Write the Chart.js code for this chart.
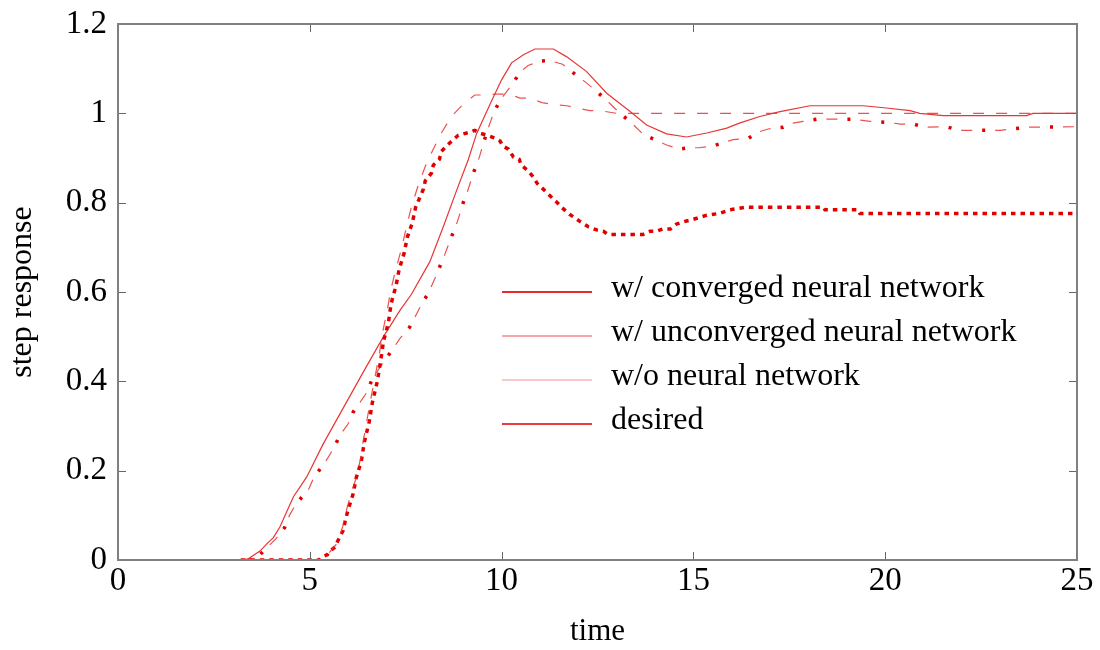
<!DOCTYPE html>
<html>
<head>
<meta charset="utf-8">
<script src="https://cdn.jsdelivr.net/npm/chart.js@4.4.1/dist/chart.umd.min.js"></script>
<style>
  body { margin: 0; background: #fff; }
  #wrap { width: 1100px; height: 650px; }
</style>
</head>
<body>
<div id="wrap"><canvas id="step-chart" width="1100" height="650"></canvas></div>
<script>
const ctx_step = document.getElementById('step-chart');

// tick values
const xTicks = [0, 5, 10, 15, 20, 25];
const yTicks = [0, 0.2, 0.4, 0.6, 0.8, 1, 1.2];

// w/ converged neural network (solid)
const convT = [3.2, 3.35, 3.7, 3.88, 4.05, 4.22, 4.57, 4.92, 5.35, 5.87, 6.39, 6.92, 7.35, 7.65, 8.13, 8.48, 8.83, 9.13, 9.35, 9.75, 10.0, 10.26, 10.57, 10.87, 11.35, 11.69, 12.21, 12.74, 13.35, 13.78, 14.3, 14.82, 15.35, 15.87, 16.2, 16.73, 17.26, 18.04, 19.43, 20.03, 20.65, 20.9, 21.51, 23.69, 23.85, 25];
const convY = [0, 0, 0.02, 0.036, 0.05, 0.074, 0.141, 0.186, 0.26, 0.34, 0.42, 0.5, 0.559, 0.595, 0.668, 0.746, 0.828, 0.896, 0.955, 1.03, 1.075, 1.113, 1.131, 1.144, 1.144, 1.127, 1.094, 1.045, 1.004, 0.974, 0.954, 0.947, 0.956, 0.967, 0.978, 0.993, 1.004, 1.017, 1.017, 1.012, 1.006, 1.0, 0.995, 0.995, 1.0, 1.0];

// w/ unconverged neural network (dash-dot)
const unconvT = [3.2, 3.5, 3.7, 4.12, 4.34, 4.47, 4.64, 4.96, 5.09, 5.27, 5.46, 5.64, 5.77, 6.0, 6.13, 6.3, 6.5, 6.61, 6.78, 6.97, 7.18, 7.35, 7.6, 7.79, 7.92, 8.09, 8.26, 8.39, 8.51, 8.7, 8.85, 9.0, 9.13, 9.27, 9.42, 9.55, 9.68, 9.81, 10.0, 10.25, 10.5, 10.69, 11.0, 11.26, 11.59, 11.91, 12.17, 12.48, 12.81, 13.09, 13.39, 13.72, 14.0, 14.3, 14.63, 14.9, 15.15, 15.52, 15.78, 16.04, 16.43, 16.69, 16.95, 17.34, 17.6, 17.86, 18.23, 19.14, 19.6, 20.03, 20.4, 20.74, 21.02, 21.6, 21.92, 23.0, 23.73, 25];
const unconvY = [0, 0.004, 0.012, 0.048, 0.072, 0.1, 0.126, 0.156, 0.182, 0.204, 0.227, 0.253, 0.277, 0.305, 0.331, 0.352, 0.377, 0.402, 0.425, 0.449, 0.474, 0.496, 0.521, 0.552, 0.574, 0.597, 0.63, 0.657, 0.682, 0.725, 0.758, 0.8, 0.83, 0.868, 0.902, 0.94, 0.974, 1.005, 1.034, 1.062, 1.094, 1.107, 1.117, 1.118, 1.11, 1.088, 1.071, 1.049, 1.023, 1.0, 0.978, 0.951, 0.941, 0.929, 0.92, 0.923, 0.923, 0.927, 0.935, 0.941, 0.944, 0.958, 0.965, 0.969, 0.978, 0.982, 0.987, 0.987, 0.982, 0.98, 0.976, 0.976, 0.969, 0.97, 0.962, 0.962, 0.969, 0.97];

// w/o neural network (dotted)
const woT = [3.2, 5.25, 5.3, 5.46, 5.51, 5.67, 5.72, 5.87, 5.93, 6.0, 6.13, 6.21, 6.34, 6.42, 6.55, 6.63, 6.76, 6.84, 6.92, 7.05, 7.12, 7.25, 7.33, 7.46, 7.54, 7.67, 7.76, 7.96, 8.01, 8.17, 8.22, 8.38, 8.43, 8.64, 8.87, 9.09, 9.3, 9.42, 9.62, 9.84, 9.96, 10.04, 10.18, 10.31, 10.46, 10.51, 10.67, 10.8, 10.93, 11.14, 11.22, 11.35, 11.44, 11.56, 11.77, 11.93, 12.04, 12.26, 12.48, 12.65, 12.78, 13.69, 13.87, 14.04, 14.2, 14.4, 14.56, 14.82, 15.09, 15.35, 15.69, 15.95, 16.39, 18.39, 18.43, 19.3, 19.34, 25];
const woY = [0, 0, 0.006, 0.012, 0.019, 0.03, 0.041, 0.066, 0.09, 0.113, 0.148, 0.184, 0.22, 0.263, 0.31, 0.352, 0.4, 0.442, 0.489, 0.532, 0.574, 0.615, 0.651, 0.687, 0.722, 0.754, 0.79, 0.83, 0.849, 0.866, 0.884, 0.897, 0.915, 0.933, 0.951, 0.956, 0.962, 0.956, 0.951, 0.944, 0.938, 0.926, 0.92, 0.902, 0.897, 0.884, 0.873, 0.86, 0.843, 0.826, 0.819, 0.808, 0.801, 0.79, 0.774, 0.765, 0.758, 0.746, 0.739, 0.736, 0.729, 0.729, 0.736, 0.736, 0.741, 0.741, 0.752, 0.759, 0.765, 0.772, 0.776, 0.784, 0.79, 0.79, 0.784, 0.784, 0.776, 0.776];

// desired (dashed)
const desT = [3.2, 5.35, 5.48, 5.7, 5.86, 5.98, 6.13, 6.22, 6.33, 6.4, 6.5, 6.6, 6.7, 6.81, 6.9, 7.02, 7.12, 7.25, 7.4, 7.53, 7.67, 7.85, 8.05, 8.18, 8.4, 8.7, 8.96, 9.3, 9.57, 9.87, 10.2, 10.48, 10.74, 11.05, 11.4, 11.7, 11.96, 12.3, 12.56, 13.0, 25];
const desY = [0, 0, 0.014, 0.036, 0.075, 0.12, 0.163, 0.186, 0.23, 0.27, 0.318, 0.365, 0.41, 0.46, 0.51, 0.56, 0.608, 0.653, 0.7, 0.75, 0.797, 0.845, 0.89, 0.913, 0.952, 0.994, 1.017, 1.041, 1.041, 1.043, 1.043, 1.034, 1.034, 1.024, 1.019, 1.017, 1.012, 1.006, 1.006, 1.0, 1.0];

const legendLabels = ['w/ converged neural network', 'w/ unconverged neural network', 'w/o neural network', 'desired'];
const legendColors = ['#e8282c', '#f4a8ab', '#f9c8ca', '#e83c3c'];

const serif = 'Liberation Serif, Times New Roman, serif';

function toPoints(ts, ys) {
  return ts.map((t, i) => ({ x: t, y: ys[i] }));
}

function lineSet(ts, ys, color, width, dash, dashOffset) {
  return {
    data: toPoints(ts, ys),
    borderColor: color,
    borderWidth: width,
    borderDash: dash,
    borderDashOffset: dashOffset || 0,
    pointRadius: 0,
    tension: 0,
    fill: false
  };
}

// frame with inward ticks on all four sides
const framePlugin = {
  id: 'frame',
  afterDatasetsDraw(chart) {
    const { ctx, chartArea: a, scales } = chart;
    ctx.save();
    ctx.strokeStyle = '#666';
    ctx.lineWidth = 1;
    ctx.beginPath();
    xTicks.forEach(v => {
      const px = Math.round(scales.x.getPixelForValue(v)) + 0.5;
      ctx.moveTo(px, a.bottom); ctx.lineTo(px, a.bottom - 8);
      ctx.moveTo(px, a.top); ctx.lineTo(px, a.top + 8);
    });
    yTicks.forEach(v => {
      const py = Math.round(scales.y.getPixelForValue(v)) + 0.5;
      ctx.moveTo(a.left, py); ctx.lineTo(a.left + 8, py);
      ctx.moveTo(a.right, py); ctx.lineTo(a.right - 8, py);
    });
    ctx.stroke();
    ctx.strokeStyle = '#808080';
    ctx.lineWidth = 2;
    ctx.strokeRect(a.left, a.top, a.right - a.left, a.bottom - a.top);
    ctx.restore();
  }
};

// legend inside the plot
const boxLegend = {
  id: 'boxLegend',
  afterDraw(chart) {
    const { ctx, chartArea: a } = chart;
    ctx.save();
    ctx.font = '32px ' + serif;
    ctx.textBaseline = 'middle';
    ctx.fillStyle = '#000';
    legendLabels.forEach((label, i) => {
      const y = a.top + 268 + i * 44;
      ctx.strokeStyle = legendColors[i];
      ctx.lineWidth = 2;
      ctx.beginPath();
      ctx.moveTo(a.left + 384, y);
      ctx.lineTo(a.left + 474, y);
      ctx.stroke();
      ctx.fillText(label, a.left + 493, y - 3);
    });
    ctx.restore();
  }
};

new Chart(ctx_step, {
  type: 'line',
  data: {
    datasets: [
      lineSet(desT, desY, 'rgba(232,50,50,0.85)', 1.2, [11, 12]),
      lineSet(woT, woY, '#e00000', 3.5, [4.5, 5]),
      lineSet(unconvT, unconvY, 'rgba(232,50,50,0.85)', 1.2, [11, 23]),
      lineSet(unconvT, unconvY, '#e00000', 3.5, [3, 31], 13),
      lineSet(convT, convY, 'rgba(228,30,30,0.9)', 1.2, [])
    ]
  },
  options: {
    responsive: false,
    animation: false,
    layout: { padding: { top: 24, right: 23, left: 0, bottom: 0 } },
    plugins: {
      legend: { display: false },
      tooltip: { enabled: false }
    },
    scales: {
      x: {
        type: 'linear',
        min: 0,
        max: 25,
        afterBuildTicks: s => { s.ticks = xTicks.map(v => ({ value: v })); },
        afterFit: s => { s.height = 90; s.paddingLeft = 0; s.paddingRight = 0; },
        grid: { display: false, drawTicks: false },
        border: { display: false },
        ticks: { color: '#000', font: { family: serif, size: 33 }, padding: 2, maxRotation: 0 },
        title: { display: true, text: 'time', color: '#000', font: { family: serif, size: 31 }, padding: { top: 0, bottom: 0 } }
      },
      y: {
        min: 0,
        max: 1.2,
        afterBuildTicks: s => { s.ticks = yTicks.map(v => ({ value: v })); },
        afterFit: s => { s.width = 118; s.paddingTop = 0; s.paddingBottom = 0; },
        grid: { display: false, drawTicks: false },
        border: { display: false },
        ticks: { color: '#000', font: { family: serif, size: 33 }, padding: 11, callback: v => String(+v.toFixed(1)) },
        title: { display: true, text: 'step response', color: '#000', font: { family: serif, size: 32 }, padding: { top: 3, bottom: 0 } }
      }
    }
  },
  plugins: [framePlugin, boxLegend]
});
</script>
</body>
</html>
